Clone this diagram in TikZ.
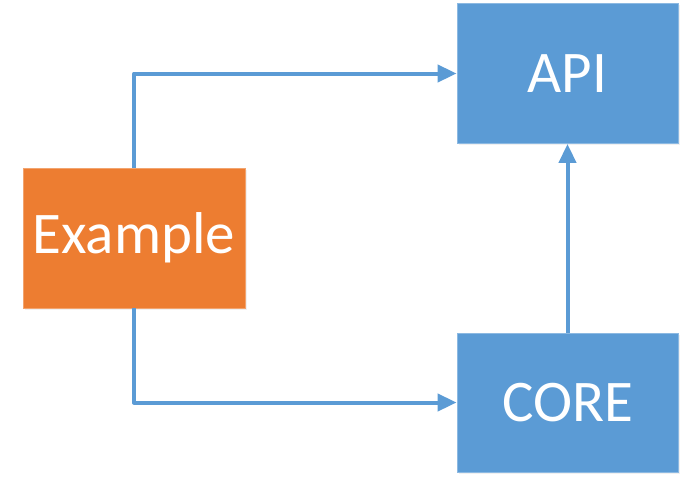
\documentclass[tikz,border=0pt]{standalone}
\usepackage{fontspec}
\setmainfont{Carlito}
\usetikzlibrary{arrows.meta,shadows}
\definecolor{boxblue}{HTML}{5B9BD5}
\definecolor{boxorange}{HTML}{ED7D31}
\tikzset{
  block/.style={rectangle, minimum width=221pt, minimum height=140pt, inner sep=0pt,
    text=white, font=\fontsize{59}{59}\selectfont,
    drop shadow={opacity=0.12, shadow xshift=1.5pt, shadow yshift=-1.5pt}},
  blueblock/.style={block, fill=boxblue, draw=boxblue!70!white, line width=0.8pt},
  orangeblock/.style={block, fill=boxorange, draw=boxorange!70!white, line width=0.8pt},
  conn/.style={draw=boxblue, line width=4pt, line join=round,
    -{Triangle[length=19pt,width=17pt]}}
}
\begin{document}
\begin{tikzpicture}[x=1pt,y=-1pt]
\useasboundingbox (0,0) rectangle (685,483);
\node[blueblock] (api) at (567.5,73.5) {API};
\node[blueblock, minimum height=139pt] (core) at (567.5,402.5) {CORE};
\node[orangeblock, minimum width=222pt] (ex) at (134,238) {Example};
\draw[conn] (ex.north) |- (api.west);
\draw[conn] (ex.south) |- (core.west);
\draw[conn] (core.north) -- (api.south);
\end{tikzpicture}
\end{document}
